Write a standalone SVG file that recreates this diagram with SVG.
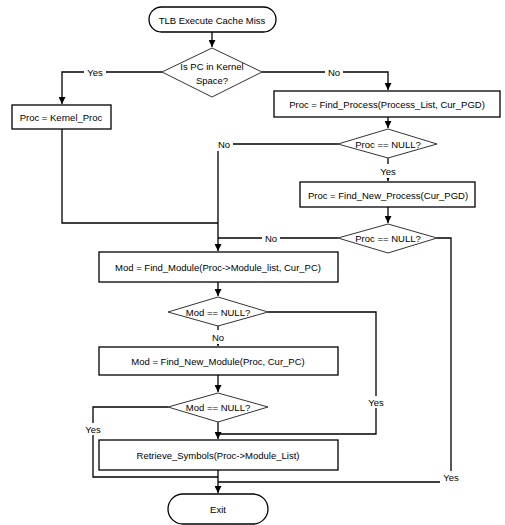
<svg xmlns="http://www.w3.org/2000/svg" width="505" height="525" viewBox="0 0 505 525">
<style>
.box{fill:#fff;stroke:#000;stroke-width:1.3}
.dia{fill:#fff;stroke:#333;stroke-width:1}
.t{font-family:"Liberation Sans",Arial,sans-serif;font-size:9.5px;fill:#000;text-anchor:middle;dominant-baseline:central}
.c{fill:none;stroke:#000;stroke-width:1.3}
.lbl{font-family:"Liberation Sans",Arial,sans-serif;font-size:9.5px;fill:#000;text-anchor:middle;dominant-baseline:central}
.bg{fill:#fff}
</style>
<defs>
<marker id="a" viewBox="0 0 10 10" refX="10" refY="5" markerWidth="7" markerHeight="7" markerUnits="userSpaceOnUse" orient="auto"><path d="M0,0 L10,5 L0,10 z" fill="#000"/></marker>
</defs>
<rect width="505" height="525" fill="#fff"/>
<g id="connectors">
<path class="c" d="M212,32 V47" marker-end="url(#a)"/>
<path class="c" d="M162,72 H62 V104" marker-end="url(#a)"/>
<path class="c" d="M262,72 H388 V90" marker-end="url(#a)"/>
<path class="c" d="M388,117 V128" marker-end="url(#a)"/>
<path class="c" d="M338,144 H218 V251" marker-end="url(#a)"/>
<path class="c" d="M388,158 V181" marker-end="url(#a)"/>
<path class="c" d="M388,207 V223" marker-end="url(#a)"/>
<path class="c" d="M62,129 V223 H218"/>
<path class="c" d="M338,238 H218"/>
<path class="c" d="M437,238 H451 V482 H218"/>
<path class="c" d="M218,282 V296" marker-end="url(#a)"/>
<path class="c" d="M218,326 V346" marker-end="url(#a)"/>
<path class="c" d="M268,312 H376 V434 H218"/>
<path class="c" d="M218,375 V392" marker-end="url(#a)"/>
<path class="c" d="M168,407 H93 V477 H218"/>
<path class="c" d="M218,422 V439" marker-end="url(#a)"/>
<path class="c" d="M218,470 V493" marker-end="url(#a)"/>
<rect class="bg" x="84" y="66" width="22" height="12"/><text class="lbl" x="95" y="72">Yes</text>
<rect class="bg" x="325" y="66" width="18" height="12"/><text class="lbl" x="334" y="72">No</text>
<rect class="bg" x="215" y="138" width="18" height="13"/><text class="lbl" x="224" y="144">No</text>
<rect class="bg" x="378" y="164" width="20" height="14"/><text class="lbl" x="388" y="171">Yes</text>
<rect class="bg" x="262" y="232" width="18" height="12"/><text class="lbl" x="271" y="238">No</text>
<rect class="bg" x="440" y="471" width="22" height="12"/><text class="lbl" x="451" y="477">Yes</text>
<rect class="bg" x="365" y="396" width="22" height="12"/><text class="lbl" x="376" y="402">Yes</text>
<rect class="bg" x="209" y="330" width="18" height="14"/><text class="lbl" x="218" y="337">No</text>
<rect class="bg" x="82" y="423" width="22" height="12"/><text class="lbl" x="93" y="429">Yes</text>
</g>
<g id="start"><rect class="box" x="149" y="7" width="127" height="25" rx="12.5"/><text class="t" x="212" y="20">TLB Execute Cache Miss</text></g>
<g id="d1"><polygon class="dia" points="162,72 212,48 262,72 212,97"/><text class="t" x="212" y="66">Is PC in Kernel</text><text class="t" x="212" y="80">Space?</text></g>
<g id="kernel"><rect class="box" x="12" y="105" width="99" height="24"/><text class="t" x="61" y="117">Proc = Kernel_Proc</text></g>
<g id="findproc"><rect class="box" x="274" y="91" width="226" height="26"/><text class="t" x="387" y="104">Proc = Find_Process(Process_List, Cur_PGD)</text></g>
<g id="d2"><polygon class="dia" points="338,144 388,129 437,144 388,158"/><text class="t" x="388" y="144">Proc == NULL?</text></g>
<g id="findnew"><rect class="box" x="300" y="182" width="175" height="25"/><text class="t" x="388" y="195">Proc = Find_New_Process(Cur_PGD)</text></g>
<g id="d3"><polygon class="dia" points="338,238 388,224 437,238 388,253"/><text class="t" x="388" y="238">Proc == NULL?</text></g>
<g id="findmod"><rect class="box" x="99" y="252" width="239" height="30"/><text class="t" x="218" y="267">Mod = Find_Module(Proc-&gt;Module_list, Cur_PC)</text></g>
<g id="d4"><polygon class="dia" points="168,312 218,297 268,312 218,326"/><text class="t" x="218" y="312">Mod == NULL?</text></g>
<g id="findnewmod"><rect class="box" x="99" y="347" width="239" height="28"/><text class="t" x="218" y="361">Mod = Find_New_Module(Proc, Cur_PC)</text></g>
<g id="d5"><polygon class="dia" points="168,407 218,393 268,407 218,422"/><text class="t" x="218" y="407">Mod == NULL?</text></g>
<g id="retrieve"><rect class="box" x="99" y="440" width="239" height="30"/><text class="t" x="218" y="455">Retrieve_Symbols(Proc-&gt;Module_List)</text></g>
<g id="exit"><rect class="box" x="168" y="494" width="100" height="30" rx="15"/><text class="t" x="218" y="509">Exit</text></g>
</svg>
